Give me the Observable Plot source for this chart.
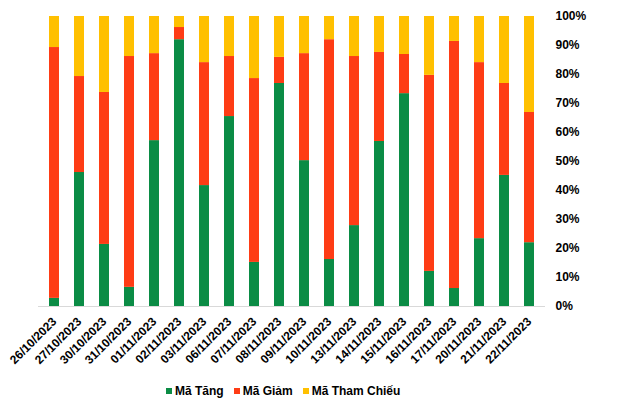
<!DOCTYPE html>
<html>
<head>
<meta charset="utf-8">
<script src="https://cdn.jsdelivr.net/npm/d3@7"></script>
<script src="https://cdn.jsdelivr.net/npm/@observablehq/plot@0.6"></script>
<style>
  body { margin: 0; background: #fff; font-family: "Liberation Sans", Arial, sans-serif; }
  #legend { display: flex; align-items: center; margin-top: 14px; margin-left: 166px; font-size: 12px; font-weight: bold; line-height: 14px; color: #000; }
  #legend .item { display: flex; align-items: center; margin-right: 10px; }
  #legend .sw { width: 6px; height: 6px; margin-right: 3px; }
</style>
</head>
<body>
<div id="chart"></div>
<script>
const dates = ["26/10/2023","27/10/2023","30/10/2023","31/10/2023","01/11/2023","02/11/2023","03/11/2023","06/11/2023","07/11/2023","08/11/2023","09/11/2023","10/11/2023","13/11/2023","14/11/2023","15/11/2023","16/11/2023","17/11/2023","20/11/2023","21/11/2023","22/11/2023"];
const seriesNames = ["Mã Tăng", "Mã Giảm", "Mã Tham Chiếu"];
const seriesColors = ["#0b8c45", "#fe3c15", "#ffc000"];
const maTang = [2.8, 46.2, 21.4, 6.6, 57.2, 92.0, 41.7, 65.5, 15.2, 76.9, 50.3, 16.2, 27.9, 56.9, 73.4, 12.1, 6.2, 23.4, 45.2, 22.0];
const maGiam = [86.5, 33.1, 52.4, 79.6, 30.0, 4.2, 42.4, 20.7, 63.4, 9.0, 36.9, 75.8, 58.3, 30.7, 13.5, 67.6, 85.2, 60.7, 31.7, 44.9];
const maThamChieu = [10.7, 20.7, 26.2, 13.8, 12.8, 3.8, 15.9, 13.8, 21.4, 14.1, 12.8, 8.0, 13.8, 12.4, 13.1, 20.3, 8.6, 15.9, 23.1, 33.1];
const yTicks = [0, 0.1, 0.2, 0.3, 0.4, 0.5, 0.6, 0.7, 0.8, 0.9, 1];

const seriesValues = [maTang, maGiam, maThamChieu];
const rows = [];
dates.forEach((d, i) => {
  seriesNames.forEach((s, j) => rows.push({date: d, series: s, value: seriesValues[j][i] / 100}));
});

const chart = Plot.plot({
  width: 640,
  height: 370,
  marginTop: 16,
  marginBottom: 64,
  marginLeft: 38,
  marginRight: 95,
  style: {fontFamily: "'Liberation Sans', Arial, sans-serif", background: "#fff"},
  x: {domain: dates, paddingInner: 0.6, paddingOuter: 0.28, label: null},
  y: {domain: [0, 1], label: null},
  color: {domain: seriesNames, range: seriesColors},
  marks: [
    Plot.barY(rows, {x: "date", y: "value", fill: "series", order: seriesNames}),
    Plot.ruleY([0], {stroke: "#d9d9d9", strokeWidth: 1}),
    Plot.axisY({anchor: "right", ticks: yTicks, tickFormat: d3.format(".0%"), tickSize: 0, tickPadding: 10, fontSize: 12, fontWeight: "bold", fill: "#000", label: null}),
    Plot.axisX({tickRotate: -45, tickSize: 0, tickPadding: 13, fontSize: 12, fontWeight: "bold", fill: "#000", label: null})
  ]
});
document.getElementById("chart").appendChild(chart);

const legend = document.createElement("div");
legend.id = "legend";
seriesNames.forEach((s, j) => {
  const item = document.createElement("div");
  item.className = "item";
  const sw = document.createElement("span");
  sw.className = "sw";
  sw.style.background = seriesColors[j];
  const t = document.createElement("span");
  t.textContent = s;
  item.appendChild(sw);
  item.appendChild(t);
  legend.appendChild(item);
});
document.body.appendChild(legend);
</script>
</body>
</html>
